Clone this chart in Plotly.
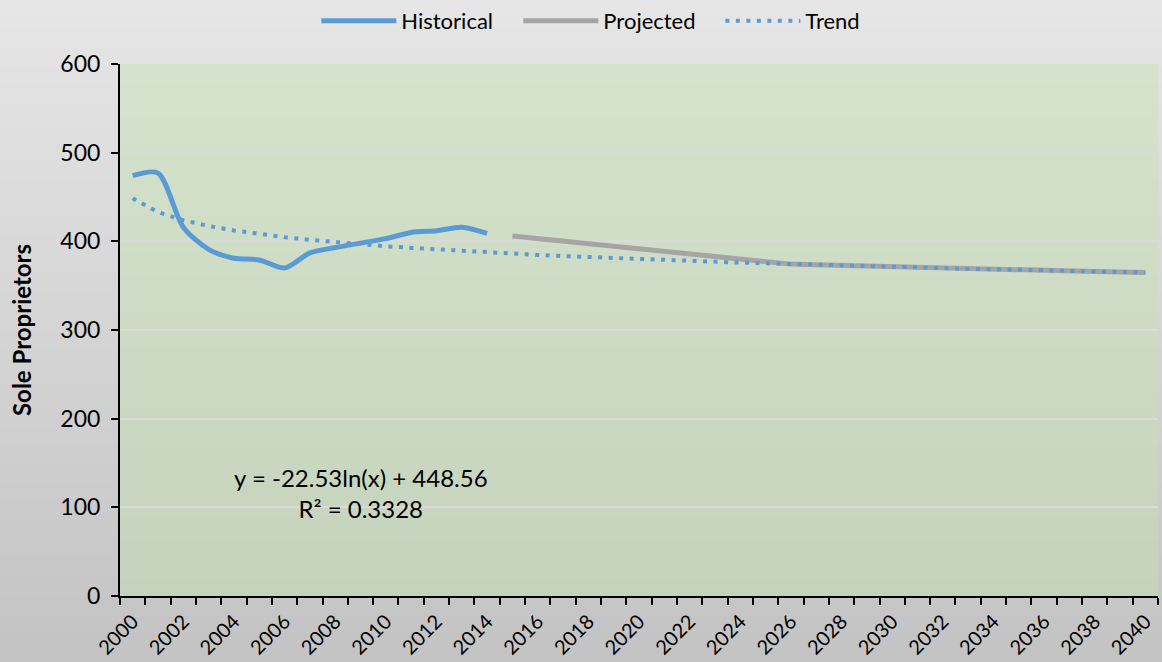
import plotly.graph_objects as go

# ---------------- data ----------------
years_hist = list(range(2000, 2015))
historical = [474, 477, 416, 391, 381, 379, 370, 387, 393, 398, 403, 410, 412, 416, 409]

years_proj = list(range(2015, 2041))
projected = [406.0, 403.1, 400.3, 397.4, 394.5, 391.7, 388.8, 385.9, 383.0, 380.2, 377.3,
             374.3, 373.5, 372.7, 371.9, 371.2, 370.5, 369.8, 369.1, 368.5, 367.8, 367.2,
             366.6, 366.0, 365.5, 364.9]

years_trend = list(range(2000, 2041))
trend = [448.6, 432.9, 423.8, 417.3, 412.3, 408.2, 404.7, 401.7, 399.1, 396.7, 394.5,
         392.6, 390.8, 389.1, 387.6, 386.1, 384.7, 383.4, 382.2, 381.1, 380.0, 378.9,
         377.9, 377.0, 376.0, 375.2, 374.3, 373.5, 372.7, 371.9, 371.2, 370.5, 369.8,
         369.1, 368.5, 367.8, 367.2, 366.6, 366.0, 365.5, 364.9]

tick_years = list(range(2000, 2041, 2))
tick_labels = [str(y) for y in tick_years]
y_ticks = [0, 100, 200, 300, 400, 500, 600]

eq_text = "y = -22.53ln(x) + 448.56"
r2_text = "R² = 0.3328"

# ---------------- layout constants ----------------
W, H = 1162, 662
ML, MR, MT, MB = 120, 4, 64, 66
FONT = "Lato"

def hex2rgb(h):
    h = h.lstrip('#')
    return tuple(int(h[i:i + 2], 16) for i in (0, 2, 4))

def lerp(c1, c2, t):
    a, b = hex2rgb(c1), hex2rgb(c2)
    return "rgb(%d,%d,%d)" % tuple(round(a[i] + (b[i] - a[i]) * t) for i in range(3))

shapes = []
# figure background gradient (paper coords extended over margins)
ph = H - MT - MB
y_top = (H - MB) / ph
y_bot = -MB / ph
N = 70
for i in range(N):
    t0 = i / N
    t1 = (i + 1) / N
    ya = y_top - (y_top - y_bot) * t0
    yb = y_top - (y_top - y_bot) * t1 - 0.004
    shapes.append(dict(type="rect", xref="paper", yref="paper",
                       x0=-ML / (W - ML - MR) - 0.01, x1=1 + MR / (W - ML - MR) + 0.01,
                       y0=yb, y1=ya, line=dict(width=0),
                       fillcolor=lerp("#e6e6e6", "#c3c3c3", (t0 + t1) / 2), layer="below"))
# plot area gradient
M = 60
for i in range(M):
    t0 = i / M
    t1 = (i + 1) / M
    shapes.append(dict(type="rect", xref="x domain", yref="y domain",
                       x0=0, x1=1, y0=max(0, 1 - t1 - 0.004), y1=1 - t0,
                       line=dict(width=0),
                       fillcolor=lerp("#d5e3cc", "#c5d3bc", (t0 + t1) / 2), layer="below"))

fig = go.Figure()
fig.add_trace(go.Scatter(x=years_hist, y=historical, name="Historical", mode="lines",
                         line=dict(color="#5b9bd5", width=5, shape="spline", smoothing=0.8)))
fig.add_trace(go.Scatter(x=years_proj, y=projected, name="Projected", mode="lines",
                         line=dict(color="#a5a5a5", width=5)))
fig.add_trace(go.Scatter(x=years_trend, y=trend, name="Trend", mode="lines",
                         line=dict(color="#5b9bd5", width=4, dash="4px,6.5px")))

fig.add_annotation(x=2009, y=116, xref="x", yref="y", text=eq_text + "<br>" + r2_text,
                   showarrow=False, align="center",
                   font=dict(family=FONT, size=24, color="#000000"))

fig.update_layout(
    width=W, height=H,
    margin=dict(l=ML, r=MR, t=MT, b=MB, autoexpand=False),
    paper_bgcolor="#d4d4d4",
    plot_bgcolor="rgba(0,0,0,0)",
    shapes=shapes,
    font=dict(family=FONT, size=22, color="#000000"),
    showlegend=True,
    legend=dict(orientation="h", xref="container", yref="container", x=0.533, y=1.0,
                xanchor="center", yanchor="top", bgcolor="rgba(0,0,0,0)",
                font=dict(family=FONT, size=22, color="#000000"),
                entrywidth=112, itemwidth=75, tracegroupgap=0),
    xaxis=dict(range=[1999.5, 2040.5], tickmode="array", tickvals=tick_years,
               ticktext=tick_labels, tickangle=-45, ticks="", showgrid=False,
               zeroline=False, showline=True, linecolor="#000000", linewidth=2,
               ticklabelstandoff=4, automargin=False,
               tickfont=dict(family=FONT, size=20, color="#000000"),
               minor=dict(tickmode="linear", tick0=1999.5, dtick=1, ticks="outside",
                          ticklen=7, tickwidth=2, tickcolor="#000000", showgrid=False)),
    yaxis=dict(range=[0, 600], tickmode="array", tickvals=y_ticks, ticks="outside",
               ticklen=7, tickwidth=2, tickcolor="#000000", showline=True,
               linecolor="#000000", linewidth=2, showgrid=True, gridcolor="#dadada",
               gridwidth=1.5, zeroline=False, ticklabelstandoff=6, automargin=False,
               tickfont=dict(family=FONT, size=23, color="#000000"),
               title=dict(text="<b>Sole Proprietors</b>", standoff=22,
                          font=dict(family=FONT, size=24, color="#000000"))),
)

fig.write_html("out.html", config={"displayModeBar": False},
               post_script="document.body.style.margin='0px';document.body.style.overflow='hidden';")
